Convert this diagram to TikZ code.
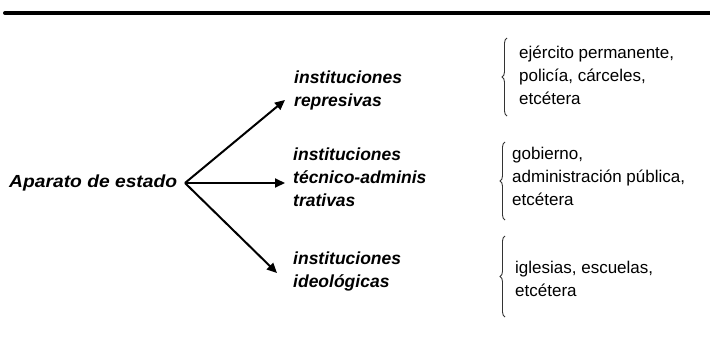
\documentclass[tikz,border=0pt]{standalone}
\usepackage{fontspec}
\setmainfont{Liberation Sans}
\usetikzlibrary{arrows.meta,decorations.pathreplacing}
\tikzset{
  lbl/.style={inner sep=0pt, anchor=west, align=left, font=\fontsize{17.5}{23}\selectfont\bfseries\itshape},
  itm/.style={inner sep=0pt, anchor=west, align=left, font=\fontsize{17}{23}\selectfont},
  arr/.style={line width=2pt, -{Triangle[length=10pt,width=9pt]}},
  brc/.style={line width=0.9pt, black!80, decorate, decoration={brace, amplitude=5pt, mirror}},
  rule/.style={line width=4pt, line cap=round}
}
\begin{document}
\begin{tikzpicture}[x=1pt,y=-1pt]
\useasboundingbox (0,0) rectangle (710,351);
\coordinate (r1) at (5,13);
\coordinate (r2) at (712,13);
\draw[rule] (r1) -- (r2);
\node[inner sep=0pt, anchor=base west, font=\fontsize{17.5}{23}\selectfont\bfseries\itshape] (ap) at (9,187) {\scalebox{1.1}[1.0]{Aparato de estado}};
\coordinate (hub) at (185,183);
\coordinate (t1) at (285,100);
\coordinate (t2) at (285,183);
\coordinate (t3) at (277,273);
\draw[arr] (hub) -- (t1);
\draw[arr] (hub) -- (t2);
\draw[arr] (hub) -- (t3);
\node[lbl] (l1) at (294,90.5) {\strut instituciones\\\strut represivas};
\node[lbl] (l2) at (293,179) {\strut instituciones\\\strut técnico-adminis\\\strut trativas};
\node[lbl] (l3) at (293,271) {\strut instituciones\\\strut ideológicas};
\coordinate (b1a) at (507,38);
\coordinate (b1b) at (507,116);
\coordinate (b2a) at (505,142);
\coordinate (b2b) at (505,220);
\coordinate (b3a) at (505,236);
\coordinate (b3b) at (505,317);
\draw[brc] (b1a) -- (b1b);
\draw[brc] (b2a) -- (b2b);
\draw[brc] (b3a) -- (b3b);
\node[itm] (i1) at (519,76.5) {\strut ejército permanente,\\\strut policía, cárceles,\\\strut etcétera};
\node[itm] (i2) at (512,177.5) {\strut gobierno,\\\strut administración pública,\\\strut etcétera};
\node[itm] (i3) at (515,280) {\strut iglesias, escuelas,\\\strut etcétera};
\end{tikzpicture}
\end{document}
